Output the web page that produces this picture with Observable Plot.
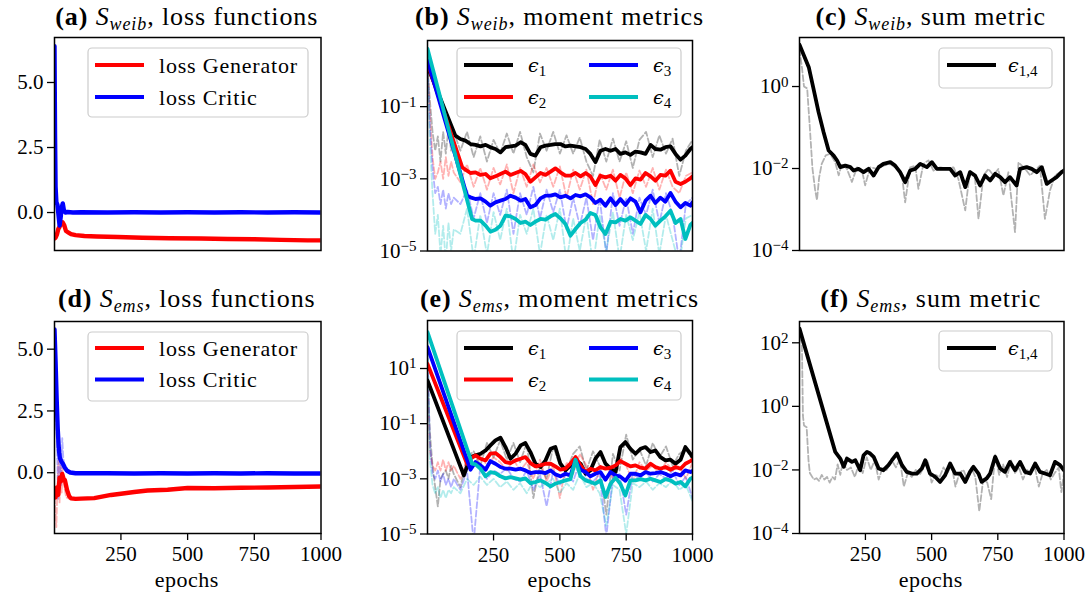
<!DOCTYPE html>
<html><head><meta charset="utf-8">
<script src="https://cdn.jsdelivr.net/npm/d3@7"></script>
<script src="https://cdn.jsdelivr.net/npm/@observablehq/plot@0.6"></script>
<style>
body{margin:0;background:#fff;}
#root{position:relative;width:1090px;height:602px;overflow:hidden;background:#fff;}
</style></head><body><div id="root"></div>
<script>
// ---------------- shared axes ----------------
const X_DOMAIN = [1, 1000];
const X_TICKS = [250, 500, 750, 1000];
const LOSS_TICKS = [0, 2.5, 5];

// ---------------- (a) S_weib loss functions ----------------
const aGenEpochs = [1, 5, 10, 15, 20, 25, 32, 38, 44, 55, 63, 80, 113, 160, 238, 330, 432, 550, 650, 750, 850, 950, 1000];
const aGenLoss = [-1.0, -0.97, -0.85, -0.64, -0.55, -0.45, -0.38, -0.5, -0.71, -0.78, -0.83, -0.87, -0.9, -0.92, -0.94, -0.97, -0.99, -1.0, -1.02, -1.03, -1.05, -1.07, -1.07];
const aCriticEpochs = [1, 3, 5, 8, 12, 16, 20, 24, 28, 32, 36, 42, 50, 70, 100, 200, 300, 400, 500, 600, 700, 800, 900, 1000];
const aCriticLoss = [6.4, 3.0, 1.0, 0.4, 0.3, -0.1, -0.5, -0.2, 0.2, 0.35, 0.1, 0.0, 0.02, 0.0, 0.01, 0.0, 0.01, 0.0, 0.01, 0.0, 0.01, 0.0, 0.01, 0.0];

// ---------------- (d) S_ems loss functions ----------------
const dGenEpochs = [1, 5, 10, 15, 20, 25, 30, 35, 40, 48, 56, 63, 80, 100, 150, 213, 250, 300, 350, 425, 500, 600, 700, 800, 900, 1000];
const dGenLoss = [-0.7, -1.0, -0.6, -0.9, -0.2, -0.35, -0.05, -0.25, -0.3, -0.7, -0.95, -1.04, -1.06, -1.05, -1.03, -0.9, -0.85, -0.78, -0.72, -0.69, -0.62, -0.63, -0.61, -0.6, -0.58, -0.56];
const dCriticEpochs = [1, 5, 9, 13, 17, 21, 27, 33, 40, 48, 60, 80, 100, 200, 300, 400, 500, 600, 700, 800, 900, 1000];
const dCriticLoss = [5.8, 4.5, 3.0, 1.8, 1.0, 0.6, 0.45, 0.35, 0.2, 0.08, 0.01, -0.02, -0.02, -0.02, -0.03, -0.02, -0.03, -0.02, -0.03, -0.02, -0.03, -0.03];
const dGenRawEpochs = [1, 4, 8, 12, 16, 20, 24, 28, 32, 38, 45, 55];
const dGenRaw = [-1.0, -1.5, -2.2, -0.5, 0.5, -1.2, 0.3, -0.8, 0.2, -0.6, -1.0, -1.05];
const dCriticRawEpochs = [1, 5, 10, 15, 20, 25, 30, 34, 38, 45, 55];
const dCriticRaw = [5.8, 3.0, 1.2, -1.1, 0.8, -0.5, 1.4, 0.6, 0.3, 0.1, 0.0];

// ---------------- moment metrics: shared epoch grid ----------------
const momentGridEpochs = [106,125,144,163,182,201,220,238,257,276,295,314,333,352,370,389,408,427,446,465,483,502,521,540,559,578,597,615,634,653,672,691,710,728,747,766,785,804,823,842,860,879,898,917,936,955,973,992,1000];
const rawGridEpochs = [1,10,20,30,40,50,60,70,80,90,100,125,150,175,200,225,250,275,300,325,350,375,400,425,450,475,500,525,550,575,600,625,650,675,700,725,750,775,800,825,850,875,900,925,950,975,1000];

// ---------------- (b) S_weib moment metrics ----------------
const bStartValues = [1.3, 1.6, 1.9, 4.0];
const bKneeEpochs = [106, 132, 150, 169];
const bKneeValues = [0.0157, 0.00208, 0.000341, 0.0000771];
const bEps1 = [null, 0.0127, 0.0114, 0.0092, 0.0087, 0.0079, 0.0087, 0.0075, 0.0067, 0.0054, 0.0075, 0.0079, 0.0083, 0.0103, 0.0087, 0.0049, 0.0044, 0.0075, 0.0083, 0.0087, 0.0092, 0.0092, 0.0079, 0.0083, 0.0079, 0.0075, 0.0067, 0.0049, 0.0029, 0.0060, 0.0067, 0.0060, 0.0067, 0.0049, 0.0054, 0.0046, 0.0057, 0.0054, 0.0049, 0.0087, 0.0067, 0.0064, 0.0075, 0.0079, 0.0049, 0.0034, 0.0044, 0.0067, 0.0075];
const bEps2 = [null, null, 0.00179, 0.00145, 0.00151, 0.00128, 0.00136, 0.00103, 0.00117, 0.00136, 0.00158, 0.00128, 0.00145, 0.00165, 0.00136, 0.00083, 0.0011, 0.00145, 0.00128, 0.00158, 0.00195, 0.00151, 0.00122, 0.00122, 0.00145, 0.00117, 0.00145, 0.00117, 0.00067, 0.00122, 0.0011, 0.00122, 0.00089, 0.00128, 0.00103, 0.00067, 0.00103, 0.00095, 0.00145, 0.00117, 0.00089, 0.00128, 0.00122, 0.00168, 0.00083, 0.00072, 0.00083, 0.00103, 0.00117];
const bEps3 = [null, null, null, 0.000307, 0.000276, 0.000288, 0.000233, 0.00018, 0.000223, 0.000248, 0.000276, 0.000341, 0.000301, 0.000248, 0.000276, 0.000162, 0.000188, 0.000288, 0.000341, 0.000341, 0.000372, 0.000307, 0.000341, 0.000288, 0.000356, 0.000327, 0.000372, 0.000307, 0.000214, 0.000264, 0.00018, 0.000288, 0.000188, 0.000276, 0.000188, 0.000288, 0.000233, 0.000118, 0.000248, 0.000341, 0.000214, 0.000301, 0.000233, 0.000405, 0.000233, 0.000162, 0.000214, 0.00018, 0.000223];
const bEps4 = [null, null, null, null, 6.93e-5, 6.93e-5, 5.04e-5, 3.43e-5, 3.9e-5, 5.04e-5, 9.53e-5, 9.14e-5, 7.71e-5, 5.97e-5, 6.5e-5, 5.26e-5, 6.5e-5, 7.71e-5, 7.38e-5, 9.14e-5, 1.06e-4, 8.04e-5, 5.6e-5, 2.66e-5, 4.07e-5, 5.97e-5, 7.38e-5, 1.13e-4, 9.95e-5, 4.53e-5, 2.96e-5, 6.5e-5, 6.23e-5, 7.71e-5, 6.93e-5, 8.57e-5, 6.93e-5, 5.6e-5, 9.95e-5, 7.71e-5, 5.04e-5, 6.93e-5, 9.14e-5, 1.31e-4, 5.97e-5, 7.71e-5, 2.15e-5, 5.26e-5, 5.97e-5];
const bRaw1 = [1.3, 0.15, 0.02, 0.006, 0.015, 0.003, 0.02, 0.005, 0.025, 0.006, 0.02, 0.006, 0.02, 0.004, 0.015, 0.003, 0.012, 0.005, 0.018, 0.005, 0.02, 0.004, 0.0015, 0.018, 0.006, 0.02, 0.005, 0.016, 0.005, 0.014, 0.003, 0.0012, 0.012, 0.003, 0.013, 0.003, 0.011, 0.002, 0.012, 0.02, 0.004, 0.016, 0.005, 0.013, 0.0012, 0.006, 0.012];
const bRaw2 = [1.5, 0.06, 0.004, 0.001, 0.0015, 0.003, 0.001, 0.004, 0.0012, 0.003, 0.0015, 0.0008, 0.0025, 0.0006, 0.002, 0.0005, 0.002, 0.0007, 0.0025, 0.0004, 0.002, 0.0006, 0.0025, 0.0008, 0.002, 0.0006, 0.0022, 0.0003, 0.0018, 0.0005, 0.0018, 0.0002, 0.0015, 0.0005, 0.0018, 0.0003, 0.0015, 0.0004, 0.0017, 0.0006, 0.002, 0.0005, 0.0018, 0.0006, 0.0004, 0.0012, 0.0015];
const bRaw3 = [1.8, 0.03, 0.002, 0.0004, 0.0006, 0.0002, 0.0005, 0.00015, 0.0004, 0.0002, 0.0003, 0.0002, 0.0005, 0.00008, 0.0004, 0.00006, 0.0004, 0.0001, 0.0005, 0.00003, 0.0004, 0.0001, 0.0006, 0.00008, 0.0005, 0.00012, 0.0005, 0.00004, 0.0003, 0.00005, 0.0003, 0.00002, 0.0003, 0.000008, 0.0004, 0.00005, 0.0003, 0.00003, 0.0003, 0.0001, 0.0005, 0.00006, 0.0004, 0.0001, 0.000005, 0.0002, 0.0003];
const bRaw4 = [3.0, 0.01, 0.0004, 0.00003, 0.0001, 0.000008, 0.00005, 0.000005, 0.00006, 0.00001, 0.00004, 0.00003, 0.00015, 0.000006, 0.0001, 0.000008, 0.00012, 0.00002, 0.00015, 0.000005, 0.0001, 0.00003, 0.00015, 0.000008, 0.0001, 0.00002, 0.00015, 0.000005, 0.00008, 0.00001, 0.0001, 0.000004, 0.0001, 0.00001, 0.00012, 0.000006, 0.0001, 0.00002, 0.00012, 0.00001, 0.00015, 0.000008, 0.0001, 0.00002, 0.000004, 0.00008, 0.0001];

// ---------------- (e) S_ems moment metrics ----------------
const eStartValues = [3.7, 14.7, 59, 209];
const eKneeEpochs = [138, 150, 163, 169];
const eKneeValues = [0.00133, 0.00353, 0.00214, 0.00353];
const eEps1 = [null, null, null, 0.00616, 0.00708, 0.00813, 0.0107, 0.0163, 0.0247, 0.0309, 0.0142, 0.00536, 0.00813, 0.0163, 0.0198, 0.00935, 0.00353, 0.00268, 0.00467, 0.0123, 0.0142, 0.00353, 0.00202, 0.00307, 0.00467, 0.00353, 0.00153, 0.00202, 0.00536, 0.00935, 0.00353, 0.00233, 0.00176, 0.0142, 0.0215, 0.0123, 0.00813, 0.0123, 0.0142, 0.00935, 0.0107, 0.00616, 0.00467, 0.00493, 0.00353, 0.00493, 0.0142, 0.00813, 0.00616];
const eEps2 = [null, null, null, 0.00536, 0.00708, 0.00536, 0.00467, 0.00813, 0.00859, 0.00616, 0.00406, 0.00373, 0.00467, 0.00536, 0.00616, 0.00373, 0.00283, 0.00307, 0.00353, 0.00353, 0.00283, 0.00214, 0.00233, 0.00353, 0.00616, 0.00307, 0.00176, 0.00233, 0.00202, 0.00268, 0.00233, 0.00253, 0.00307, 0.00441, 0.00353, 0.00283, 0.00307, 0.00253, 0.00233, 0.00353, 0.00268, 0.00233, 0.00268, 0.00214, 0.00268, 0.00233, 0.00353, 0.00441, 0.00493];
const eEps3 = [null, null, null, null, 0.00406, 0.00307, 0.00214, 0.00441, 0.00353, 0.00268, 0.00233, 0.00233, 0.00214, 0.00233, 0.00202, 0.00162, 0.00176, 0.00176, 0.00162, 0.00202, 0.00145, 0.00123, 0.00153, 0.00133, 0.00467, 0.00214, 0.00176, 0.00123, 0.00153, 0.00176, 0.00093, 0.00176, 0.00133, 0.0012, 0.00085, 0.00153, 0.00153, 0.00133, 0.00176, 0.00153, 0.00162, 0.00176, 0.00153, 0.00123, 0.00153, 0.00133, 0.00202, 0.00176, 0.00192];
const eEps4 = [null, null, null, null, 0.00334, 0.00233, 0.00123, 0.00176, 0.00162, 0.00123, 0.00104, 0.00116, 0.00104, 0.00093, 0.00104, 0.000705, 0.000766, 0.00088, 0.000705, 0.000534, 0.000666, 0.000766, 0.00088, 0.00098, 0.00493, 0.00123, 0.00088, 0.000766, 0.000666, 0.00088, 0.000219, 0.000666, 0.0011, 0.00066, 0.00025, 0.00088, 0.00088, 0.00098, 0.00088, 0.00101, 0.00088, 0.000766, 0.00098, 0.00088, 0.000666, 0.000766, 0.000534, 0.00101, 0.0011];
const eRaw1 = [3.7, 0.05, 0.003, 0.0005, 0.0001, 0.001, 0.0015, 0.002, 0.001, 0.003, 0.0015, 0.0005, 0.006, 0.01, 0.003, 0.02, 0.006, 0.025, 0.005, 0.02, 0.004, 0.02, 0.0002, 0.003, 0.001, 0.015, 0.003, 0.002, 0.008, 0.015, 0.002, 0.01, 0.003, 0.00005, 0.008, 0.002, 0.04, 0.005, 0.012, 0.003, 0.02, 0.006, 0.015, 0.003, 0.008, 0.012, 0.005];
const eRaw2 = [14, 0.01, 0.003, 0.002, 0.004, 0.002, 0.005, 0.002, 0.004, 0.002, 0.003, 0.001, 0.005, 0.003, 0.008, 0.003, 0.006, 0.004, 0.002, 0.005, 0.002, 0.004, 0.001, 0.005, 0.0008, 0.003, 0.0002, 0.004, 0.0015, 0.008, 0.003, 0.0004, 0.002, 0.003, 0.001, 0.006, 0.003, 0.0008, 0.004, 0.002, 0.003, 0.0015, 0.004, 0.002, 0.003, 0.001, 0.004];
const eRaw3 = [59, 0.02, 0.0015, 0.001, 0.002, 0.0008, 0.0015, 0.0006, 0.001, 0.0005, 0.001, 0.0004, 0.002, 0.000005, 0.003, 0.001, 0.002, 0.0015, 0.0025, 0.001, 0.0008, 0.002, 0.0004, 0.0015, 0.0001, 0.002, 0.0006, 0.0015, 0.0008, 0.004, 0.001, 0.0008, 0.0015, 0.000008, 0.0012, 0.0015, 0.00005, 0.0015, 0.001, 0.0018, 0.0008, 0.0015, 0.001, 0.002, 0.0006, 0.0012, 0.0002];
const eRaw4 = [200, 0.005, 0.0006, 0.0003, 0.0005, 0.0002, 0.0004, 0.0002, 0.0004, 0.0003, 0.0005, 0.0003, 0.001, 0.0006, 0.0012, 0.0006, 0.001, 0.0005, 0.0008, 0.0004, 0.0007, 0.0003, 0.0008, 0.0005, 0.0007, 0.001, 0.0003, 0.0007, 0.0004, 0.0015, 0.0005, 0.0007, 0.0003, 0.00002, 0.0006, 0.0004, 0.00001, 0.0007, 0.0005, 0.0008, 0.0004, 0.0007, 0.0005, 0.0009, 0.0004, 0.0006, 0.00015];

// ---------------- (c) S_weib sum metric ----------------
const cEpochs = [1, 36, 54, 73, 92, 111, 130, 143, 155, 174, 193, 205, 224, 243, 262, 281, 300, 318, 344, 362, 381, 400, 419, 438, 457, 482, 501, 520, 545, 570, 589, 608, 627, 645, 664, 683, 702, 721, 740, 759, 777, 796, 821, 834, 859, 878, 897, 916, 935, 953, 972, 991, 1000];
const cSum = [10.5, 2.96, 0.878, 0.237, 0.0769, 0.0275, 0.0207, 0.0157, 0.0108, 0.0118, 0.0108, 0.00894, 0.00982, 0.00814, 0.00982, 0.00675, 0.0108, 0.013, 0.0143, 0.0118, 0.00814, 0.00464, 0.00894, 0.00982, 0.013, 0.0108, 0.0143, 0.00982, 0.00982, 0.00982, 0.00675, 0.00814, 0.00351, 0.00814, 0.00675, 0.00385, 0.00675, 0.0051, 0.00741, 0.00615, 0.00464, 0.00615, 0.00385, 0.00982, 0.0108, 0.00982, 0.00814, 0.0108, 0.00423, 0.0051, 0.00615, 0.00814, 0.00894];
const cRawEpochs = [1, 10, 18, 30, 40, 50, 60, 67, 75, 85, 100, 117, 136, 149, 161, 180, 199, 218, 237, 249, 268, 293, 318, 344, 369, 388, 400, 419, 438, 450, 469, 488, 507, 532, 557, 583, 601, 627, 645, 664, 677, 696, 715, 733, 752, 771, 790, 815, 828, 853, 872, 890, 909, 928, 947, 966, 985, 1000];
const cRaw = [8, 3, 1.0, 0.9, 0.1, 0.01, 0.003, 0.0017, 0.006, 0.013, 0.0209, 0.0229, 0.0141, 0.0068, 0.0129, 0.0098, 0.0047, 0.0107, 0.0089, 0.0039, 0.0107, 0.0098, 0.0117, 0.0129, 0.0098, 0.0068, 0.0015, 0.0107, 0.0117, 0.0032, 0.0129, 0.0158, 0.0089, 0.0107, 0.0098, 0.0107, 0.0056, 0.00095, 0.0089, 0.0056, 0.00059, 0.0068, 0.0098, 0.0068, 0.0098, 0.0022, 0.0081, 0.00028, 0.0141, 0.0098, 0.0068, 0.0089, 0.0117, 0.00059, 0.0029, 0.0068, 0.0081, 0.0098];

// ---------------- (f) S_ems sum metric ----------------
const fEpochs = [1, 136, 155, 168, 180, 199, 212, 230, 243, 256, 268, 281, 300, 318, 337, 350, 369, 388, 406, 425, 444, 463, 476, 494, 513, 532, 551, 570, 589, 608, 627, 645, 658, 677, 689, 708, 721, 740, 759, 777, 796, 815, 834, 853, 872, 891, 909, 928, 947, 966, 985, 1000];
const fSum = [280, 0.037, 0.0228, 0.0125, 0.0228, 0.0179, 0.0202, 0.0098, 0.029, 0.037, 0.0328, 0.0258, 0.0111, 0.0098, 0.0141, 0.0202, 0.0328, 0.0141, 0.0087, 0.0077, 0.0077, 0.0111, 0.0202, 0.0077, 0.0061, 0.0042, 0.0068, 0.0159, 0.0077, 0.0077, 0.0042, 0.0087, 0.0125, 0.0077, 0.0042, 0.0054, 0.0077, 0.0258, 0.0111, 0.0087, 0.0179, 0.0098, 0.0179, 0.0087, 0.0077, 0.0159, 0.0087, 0.0077, 0.0068, 0.0179, 0.0141, 0.0098];
const fRawEpochs = [1, 10, 14, 18, 28, 35, 40, 55, 65, 75, 85, 95, 105, 115, 125, 135, 145, 155, 165, 180, 195, 210, 225, 240, 255, 270, 285, 300, 315, 330, 350, 365, 380, 395, 410, 425, 440, 455, 470, 485, 500, 515, 530, 545, 560, 575, 590, 605, 620, 635, 650, 665, 680, 695, 710, 725, 740, 755, 770, 785, 800, 815, 830, 845, 860, 875, 890, 905, 920, 935, 950, 965, 980, 990, 1000];
const fRaw = [150, 100, 0.5, 0.25, 0.22, 0.02, 0.008, 0.005, 0.0055, 0.0045, 0.007, 0.005, 0.006, 0.004, 0.006, 0.005, 0.015, 0.007, 0.018, 0.01, 0.012, 0.006, 0.015, 0.008, 0.025, 0.01, 0.02, 0.005, 0.012, 0.01, 0.02, 0.012, 0.022, 0.003, 0.008, 0.006, 0.01, 0.007, 0.012, 0.02, 0.004, 0.007, 0.006, 0.012, 0.008, 0.015, 0.003, 0.008, 0.01, 0.005, 0.012, 0.006, 0.0005, 0.005, 0.004, 0.0012, 0.03, 0.007, 0.015, 0.006, 0.02, 0.008, 0.012, 0.005, 0.01, 0.008, 0.012, 0.003, 0.008, 0.01, 0.005, 0.008, 0.012, 0.002, 0.008];

// ---------------- labels ----------------
const lossLabels = ["loss Generator", "loss Critic"];
const epsSubs = ["1", "2", "3", "4"];
const sumSub = "1,4";
const panelLetters = ["a", "b", "c", "d", "e", "f"];
const panelSets = ["weib", "weib", "weib", "ems", "ems", "ems"];
const panelNames = ["loss functions", "moment metrics", "sum metric", "loss functions", "moment metrics", "sum metric"];
const xLabel = "epochs";

// ---------------- styling ----------------
const FONT = "'Liberation Serif', 'DejaVu Serif', serif";
const RED = "#ff0000", BLUE = "#0000ff", BLACK = "#000000", CYAN = "#00bfbf";
const EPS_COLORS = [BLACK, RED, BLUE, CYAN];
const LW = 3.8;
const LOSS_LW = 4.4;

const root = document.getElementById("root");

function series(epochs, values) {
  return epochs.map((e, i) => ({epoch: e, value: values[i]})).filter(d => d.value != null);
}
function momentSeries(start, kneeE, kneeV, values) {
  return [{epoch: 1, value: start}, {epoch: kneeE, value: kneeV}, ...series(momentGridEpochs, values)];
}
function solid(data, color, w = LW) {
  return Plot.line(data, {x: "epoch", y: "value", stroke: color, strokeWidth: w, strokeLinejoin: "round", clip: true});
}
function dashed(data, color, op) {
  return Plot.line(data, {x: "epoch", y: "value", stroke: color, strokeOpacity: op, strokeWidth: 1.8, strokeDasharray: "6,2.6", clip: true});
}

const logFmt = d => "10^" + Math.round(Math.log10(d));
const linFmt = d => d.toFixed(1);

function panel(frame, yType, yDomain, yTicks, yFormat, bottom, marks) {
  const ml = 64, mr = 8, mt = 8, mb = bottom ? 42 : 8;
  const w = frame.r - frame.l, h = frame.b - frame.t;
  const axes = [Plot.axisY({ticks: yTicks, tickFormat: yFormat, tickSize: 7, tickPadding: 4, label: null, strokeWidth: 1.3, fontSize: 21})];
  if (bottom) axes.push(Plot.axisX({ticks: X_TICKS, tickFormat: d => String(d), tickSize: 7, tickPadding: 6, label: null, strokeWidth: 1.3, fontSize: 21}));
  const svg = Plot.plot({
    width: w + ml + mr, height: h + mt + mb,
    marginLeft: ml, marginRight: mr, marginTop: mt, marginBottom: mb,
    style: {fontFamily: FONT, fontSize: "21px", background: "transparent", color: "black", overflow: "visible"},
    x: {domain: X_DOMAIN, axis: bottom ? undefined : null},
    y: {type: yType, domain: yDomain},
    marks: [...marks, ...axes, Plot.frame({stroke: "black", strokeWidth: 1.5})]
  });
  svg.querySelectorAll('[aria-label="y-axis tick label"] text').forEach(t => {
    const m = t.textContent.match(/^10\^(.+)$/);
    if (!m) return;
    t.textContent = "";
    const ns = "http://www.w3.org/2000/svg";
    const a = document.createElementNS(ns, "tspan"); a.textContent = "10";
    const b = document.createElementNS(ns, "tspan"); b.textContent = m[1].replace("-", "\u2212");
    b.setAttribute("dy", "-0.45em"); b.setAttribute("font-size", "15");
    t.append(a, b);
  });
  svg.style.position = "absolute";
  svg.style.left = (frame.l - ml) + "px";
  svg.style.top = (frame.t - mt) + "px";
  root.appendChild(svg);
}

const FR = {
  a: {l: 53.5, r: 320, t: 37, b: 250},
  b: {l: 427, r: 692, t: 39.5, b: 250},
  c: {l: 798.5, r: 1063, t: 37, b: 250},
  d: {l: 53.5, r: 320, t: 321, b: 533},
  e: {l: 427, r: 692, t: 319.5, b: 533},
  f: {l: 798.5, r: 1063, t: 321, b: 533}
};

// (a)
panel(FR.a, "linear", [-1.46, 6.73], LOSS_TICKS, linFmt, false, [
  solid(series(aGenEpochs, aGenLoss), RED, LOSS_LW),
  solid(series(aCriticEpochs, aCriticLoss), BLUE, LOSS_LW)
]);
// (b)
const bVals = [bEps1, bEps2, bEps3, bEps4];
const bRaws = [bRaw1, bRaw2, bRaw3, bRaw4];
panel(FR.b, "log", [1e-5, 6.8], [1e-5, 1e-3, 1e-1], logFmt, false, [
  ...bRaws.map((r, i) => dashed(series(rawGridEpochs, r), EPS_COLORS[i], 0.3)),
  ...bVals.map((v, i) => solid(momentSeries(bStartValues[i], bKneeEpochs[i], bKneeValues[i], v), EPS_COLORS[i]))
]);
// (c)
panel(FR.c, "log", [1e-4, 15.7], [1e-4, 1e-2, 1], logFmt, false, [
  dashed(series(cRawEpochs, cRaw), BLACK, 0.3),
  solid(series(cEpochs, cSum), BLACK)
]);
// (d)
panel(FR.d, "linear", [-2.46, 6.12], LOSS_TICKS, linFmt, true, [
  dashed(series(dGenRawEpochs, dGenRaw), RED, 0.3),
  dashed(series(dCriticRawEpochs, dCriticRaw), BLUE, 0.3),
  solid(series(dGenEpochs, dGenLoss), RED, LOSS_LW),
  solid(series(dCriticEpochs, dCriticLoss), BLUE, LOSS_LW)
]);
// (e)
const eVals = [eEps1, eEps2, eEps3, eEps4];
const eRaws = [eRaw1, eRaw2, eRaw3, eRaw4];
panel(FR.e, "log", [1e-5, 550], [1e-5, 1e-3, 1e-1, 10], logFmt, true, [
  ...eRaws.map((r, i) => dashed(series(rawGridEpochs, r), EPS_COLORS[i], 0.3)),
  ...eVals.map((v, i) => solid(momentSeries(eStartValues[i], eKneeEpochs[i], eKneeValues[i], v), EPS_COLORS[i]))
]);
// (f)
panel(FR.f, "log", [1e-4, 468], [1e-4, 1e-2, 1, 100], logFmt, true, [
  dashed(series(fRawEpochs, fRaw), BLACK, 0.3),
  solid(series(fEpochs, fSum), BLACK)
]);

// ---------------- overlay: titles, legends, x labels ----------------
const ov = d3.create("svg").attr("width", 1090).attr("height", 602).attr("font-family", FONT)
  .style("position", "absolute").style("left", "0px").style("top", "0px").style("overflow", "visible");

const frames = [FR.a, FR.b, FR.c, FR.d, FR.e, FR.f];
frames.forEach((fr, i) => {
  const y = i < 3 ? 25 : 306.5;
  const t = ov.append("text").attr("x", (fr.l + fr.r) / 2).attr("y", y).attr("text-anchor", "middle")
    .attr("font-size", 26).attr("letter-spacing", "0.9px").attr("fill", "black");
  t.append("tspan").attr("font-weight", "bold").text("(" + panelLetters[i] + ")");
  t.append("tspan").text("\u00a0");
  t.append("tspan").attr("font-style", "italic").text("S");
  t.append("tspan").attr("font-style", "italic").attr("font-size", 18).attr("dy", 5).text(panelSets[i]);
  t.append("tspan").attr("dy", -5).text(", " + panelNames[i]);
});

[FR.d, FR.e, FR.f].forEach(fr => {
  ov.append("text").attr("x", (fr.l + fr.r) / 2).attr("y", 587).attr("text-anchor", "middle")
    .attr("font-size", 22).attr("letter-spacing", "0.5px").text(xLabel);
});

function box(x, y, w, h) {
  ov.append("rect").attr("x", x).attr("y", y).attr("width", w).attr("height", h).attr("rx", 4)
    .attr("fill", "white").attr("fill-opacity", 0.8).attr("stroke", "#cccccc").attr("stroke-width", 1.2);
}
function swatch(x1, x2, y, color) {
  ov.append("line").attr("x1", x1).attr("x2", x2).attr("y1", y).attr("y2", y).attr("stroke", color).attr("stroke-width", LW);
}
function label(x, y, s) {
  ov.append("text").attr("x", x).attr("y", y).attr("font-size", 22).attr("letter-spacing", "0.8px").text(s);
}
function eps(x, y, sub) {
  const t = ov.append("text").attr("x", x).attr("y", y).attr("font-size", 22);
  t.append("tspan").attr("font-style", "italic").attr("font-family", "'DejaVu Serif', serif").attr("font-size", 19).text("\u03f5");
  t.append("tspan").attr("font-size", 15).attr("dy", 4).text(sub);
}

[[48, 65, 97], [332, 348, 379.5]].forEach(([top, y1, y2]) => {
  box(88, top, 220, 69);
  swatch(95, 144, y1, RED); label(159, y1 + 7.5, lossLabels[0]);
  swatch(95, 144, y2, BLUE); label(159, y2 + 7.5, lossLabels[1]);
});
[[48, 65, 97], [331, 348, 379.5]].forEach(([top, y1, y2]) => {
  box(457, top, 224, 69);
  swatch(464, 513, y1, EPS_COLORS[0]); eps(528, y1 + 7, epsSubs[0]);
  swatch(464, 513, y2, EPS_COLORS[1]); eps(528, y2 + 7, epsSubs[1]);
  swatch(589, 638, y1, EPS_COLORS[2]); eps(653, y1 + 7, epsSubs[2]);
  swatch(589, 638, y2, EPS_COLORS[3]); eps(653, y2 + 7, epsSubs[3]);
});
[[48, 65], [331, 348]].forEach(([top, y1]) => {
  box(939, top, 113, 40);
  swatch(947, 996, y1, BLACK); eps(1008, y1 + 7, sumSub);
});

root.appendChild(ov.node());
</script></body></html>
